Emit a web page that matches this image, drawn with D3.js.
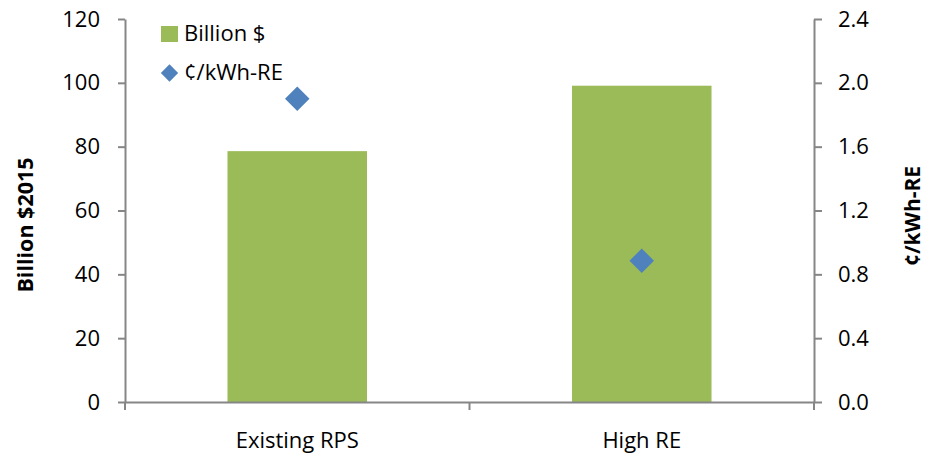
<!DOCTYPE html>
<html>
<head>
<meta charset="utf-8">
<script src="https://cdn.jsdelivr.net/npm/d3@7"></script>
<style>
  body { margin: 0; background: #fff; }
  text { font-family: "Open Sans", sans-serif; fill: #000; }
</style>
</head>
<body>
<div id="chart-area"></div>
<script>
// data
var categories = ["Existing RPS", "High RE"];
var billions = [78.6, 99.1];
var centsPerKwh = [1.90, 0.885];
var leftTicks = [0, 20, 40, 60, 80, 100, 120];
var rightTicks = [0, 0.4, 0.8, 1.2, 1.6, 2.0, 2.4];

var W = 927, H = 453;
var plotLeft = 125, plotRight = 814, plotTop = 19, plotBottom = 402;
var axisColor = "#868686";

var svg = d3.select("#chart-area")
    .append("svg")
    .attr("width", W)
    .attr("height", H);

// scales
var x = d3.scaleBand().domain(categories).range([plotLeft, plotRight]).padding(0);
var y = d3.scaleLinear().domain([0, 120]).range([plotBottom, plotTop]);
var y2 = d3.scaleLinear().domain([0, 2.4]).range([plotBottom, plotTop]);

// bars
var barW = x.bandwidth() * 0.405;
svg.selectAll(".bar")
    .data(categories)
    .enter().append("rect")
    .attr("class", "bar")
    .attr("x", function(d){ return x(d) + x.bandwidth() / 2 - barW / 2; })
    .attr("y", function(d, i){ return y(billions[i]); })
    .attr("width", barW)
    .attr("height", function(d, i){ return plotBottom - y(billions[i]); })
    .attr("fill", "#9BBB59");

// left axis
var yAxis = svg.append("g")
    .attr("transform", "translate(" + plotLeft + ",0)")
    .call(d3.axisLeft(y).tickValues(leftTicks).tickSize(7).tickSizeOuter(0).tickPadding(18));

// right axis
var y2Axis = svg.append("g")
    .attr("transform", "translate(" + plotRight + ",0)")
    .call(d3.axisRight(y2).tickValues(rightTicks).tickSize(8).tickSizeOuter(0).tickPadding(16)
        .tickFormat(d3.format(".1f")));

[yAxis, y2Axis].forEach(function(a){
    a.selectAll("path").attr("stroke", axisColor).attr("stroke-width", 2);
    a.selectAll("line").attr("stroke", axisColor).attr("stroke-width", 2);
    a.selectAll("text").attr("font-size", "22px").attr("font-family", "Open Sans").attr("fill", "#000");
});

// x axis
var xAxis = svg.append("g")
    .attr("transform", "translate(0," + plotBottom + ")")
    .call(d3.axisBottom(x).tickSize(0).tickPadding(30));
xAxis.selectAll("path").attr("stroke", axisColor).attr("stroke-width", 2);
xAxis.selectAll("text").attr("font-size", "22px").attr("font-family", "Open Sans").attr("fill", "#000");

// ticks between categories
var bounds = categories.map(function(d){ return x(d); }).concat([plotRight]);
xAxis.selectAll(".bound")
    .data(bounds)
    .enter().append("line")
    .attr("class", "bound")
    .attr("x1", function(d){ return d; })
    .attr("x2", function(d){ return d; })
    .attr("y1", 0)
    .attr("y2", 8)
    .attr("stroke", axisColor)
    .attr("stroke-width", 2);

// diamonds
var diamond = d3.symbol().type(d3.symbolSquare).size(300);
svg.selectAll(".pt")
    .data(categories)
    .enter().append("path")
    .attr("class", "pt")
    .attr("d", diamond)
    .attr("transform", function(d, i){
        return "translate(" + (x(d) + x.bandwidth() / 2) + "," + y2(centsPerKwh[i]) + ") rotate(45)";
    })
    .attr("fill", "#4F81BD");

// axis titles
svg.append("text")
    .attr("transform", "translate(33,225) rotate(-90)")
    .attr("text-anchor", "middle")
    .attr("font-size", "21.5px")
    .attr("font-weight", "bold")
    .text("Billion $2015");
svg.append("text")
    .attr("transform", "translate(920,216) rotate(-90)")
    .attr("text-anchor", "middle")
    .attr("font-size", "21px")
    .attr("font-weight", "bold")
    .text("¢/kWh-RE");

// legend
svg.append("rect")
    .attr("x", 161).attr("y", 26)
    .attr("width", 17).attr("height", 16)
    .attr("fill", "#9BBB59");
svg.append("text")
    .attr("x", 184).attr("y", 41)
    .attr("font-size", "22px")
    .text("Billion $");
svg.append("path")
    .attr("d", d3.symbol().type(d3.symbolSquare).size(150))
    .attr("transform", "translate(169.5,73) rotate(45)")
    .attr("fill", "#4F81BD");
svg.append("text")
    .attr("x", 184).attr("y", 80)
    .attr("font-size", "22px")
    .text("¢/kWh-RE");
</script>
</body>
</html>
